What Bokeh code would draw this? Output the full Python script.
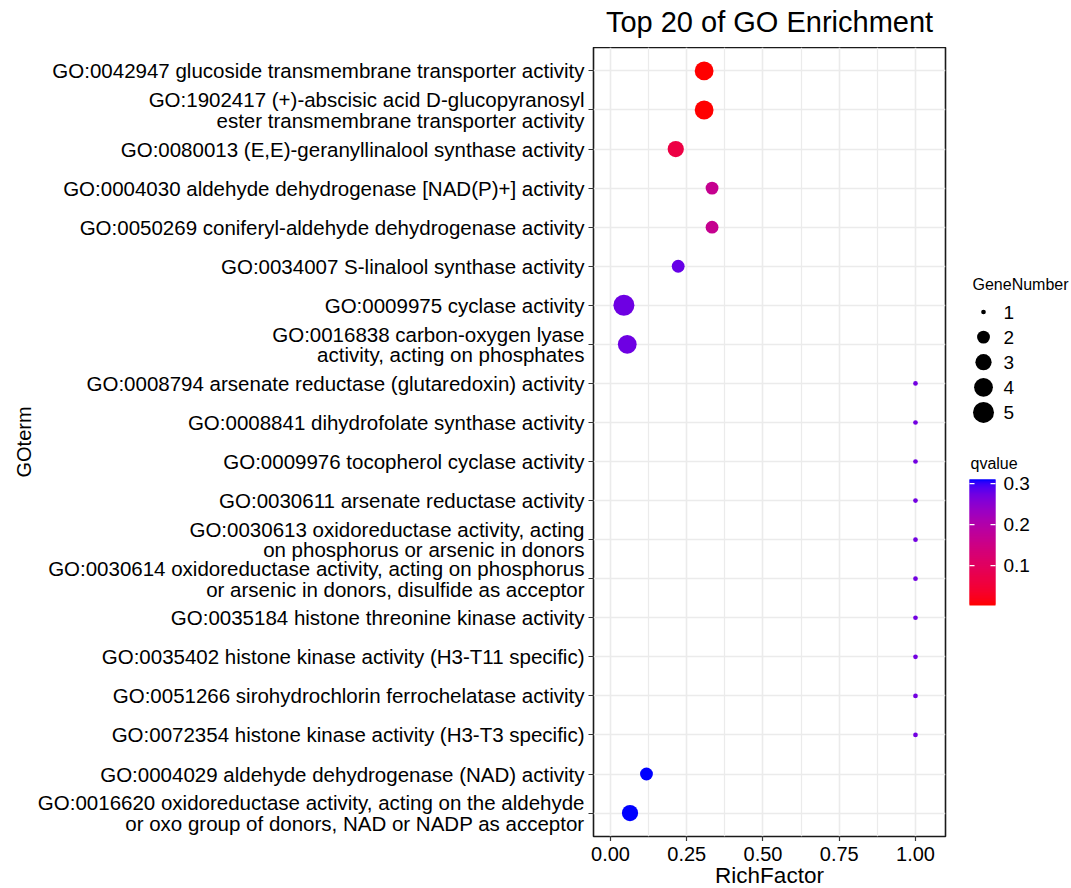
import numpy as np
from bokeh.plotting import figure
from bokeh.models import (Range1d, FixedTicker, ColumnDataSource, LinearColorMapper,
                          CustomJSTickFormatter)
from bokeh.transform import transform
from bokeh.layouts import row, column
from bokeh.embed import file_html
from bokeh.resources import INLINE
from bokeh.core.properties import value

# ---- data (top row first) ----
go_terms = [
    "GO:0042947 glucoside transmembrane transporter activity",
    "GO:1902417 (+)-abscisic acid D-glucopyranosyl\nester transmembrane transporter activity",
    "GO:0080013 (E,E)-geranyllinalool synthase activity",
    "GO:0004030 aldehyde dehydrogenase [NAD(P)+] activity",
    "GO:0050269 coniferyl-aldehyde dehydrogenase activity",
    "GO:0034007 S-linalool synthase activity",
    "GO:0009975 cyclase activity",
    "GO:0016838 carbon-oxygen lyase\nactivity, acting on phosphates",
    "GO:0008794 arsenate reductase (glutaredoxin) activity",
    "GO:0008841 dihydrofolate synthase activity",
    "GO:0009976 tocopherol cyclase activity",
    "GO:0030611 arsenate reductase activity",
    "GO:0030613 oxidoreductase activity, acting\non phosphorus or arsenic in donors",
    "GO:0030614 oxidoreductase activity, acting on phosphorus\nor arsenic in donors, disulfide as acceptor",
    "GO:0035184 histone threonine kinase activity",
    "GO:0035402 histone kinase activity (H3-T11 specific)",
    "GO:0051266 sirohydrochlorin ferrochelatase activity",
    "GO:0072354 histone kinase activity (H3-T3 specific)",
    "GO:0004029 aldehyde dehydrogenase (NAD) activity",
    "GO:0016620 oxidoreductase activity, acting on the aldehyde\nor oxo group of donors, NAD or NADP as acceptor",
]
rich_factor = [0.307, 0.307, 0.214, 0.333, 0.333, 0.222, 0.044, 0.055,
               1.0, 1.0, 1.0, 1.0, 1.0, 1.0, 1.0, 1.0, 1.0, 1.0,
               0.118, 0.064]
gene_number = [4, 4, 3, 2, 2, 2, 5, 4,
               1, 1, 1, 1, 1, 1, 1, 1, 1, 1,
               2, 3]
qvalue = [0.003, 0.003, 0.065, 0.165, 0.165, 0.28, 0.275, 0.275,
          0.272, 0.272, 0.272, 0.272, 0.272, 0.272, 0.272, 0.272, 0.272, 0.272,
          0.31, 0.31]

x_ticks = [0.0, 0.25, 0.5, 0.75, 1.0]
x_minor = [0.125, 0.375, 0.625, 0.875]
size_breaks = [1, 2, 3, 4, 5]
q_breaks = [0.1, 0.2, 0.3]

FONT = "Liberation Sans"

# ---- red -> blue gradient interpolated in CIE Lab ----
WHITE = np.array([0.95047, 1.0, 1.08883])
M = np.array([[0.4124, 0.3576, 0.1805],
              [0.2126, 0.7152, 0.0722],
              [0.0193, 0.1192, 0.9505]])
MINV = np.linalg.inv(M)
D = 6 / 29


def hex_to_lab(h):
    rgb = np.array([int(h[i:i + 2], 16) for i in (1, 3, 5)]) / 255
    lin = np.where(rgb <= 0.04045, rgb / 12.92, ((rgb + 0.055) / 1.055) ** 2.4)
    xyz = M @ lin / WHITE
    f = np.where(xyz > D ** 3, np.cbrt(xyz), xyz / (3 * D ** 2) + 4 / 29)
    return np.array([116 * f[1] - 16, 500 * (f[0] - f[1]), 200 * (f[1] - f[2])])


def lab_to_hex(lab):
    L, a, b = lab
    fy = (L + 16) / 116
    f = np.array([fy + a / 500, fy, fy - b / 200])
    xyz = np.where(f > D, f ** 3, 3 * D ** 2 * (f - 4 / 29)) * WHITE
    lin = np.clip(MINV @ xyz, 0, 1)
    rgb = np.where(lin <= 0.0031308, 12.92 * lin, 1.055 * lin ** (1 / 2.4) - 0.055)
    return "#%02x%02x%02x" % tuple(int(round(c * 255)) for c in np.clip(rgb, 0, 1))


lab_lo, lab_hi = hex_to_lab("#ff0000"), hex_to_lab("#0000ff")
palette = [lab_to_hex(lab_lo + (lab_hi - lab_lo) * t) for t in np.linspace(0, 1, 256)]
q_lo, q_hi = min(qvalue), max(qvalue)
mapper = LinearColorMapper(palette=palette, low=q_lo, high=q_hi)

g_lo, g_hi = min(gene_number), max(gene_number)


def gene_diam(n):
    # area-style size scale (diameter in px)
    return 4.7 + 16.3 * np.sqrt((n - g_lo) / (g_hi - g_lo))


n_terms = len(go_terms)
src = ColumnDataSource(dict(
    term=go_terms,
    rich=rich_factor,
    genes=gene_number,
    q=qvalue,
    ypos=[n_terms - i for i in range(n_terms)],
    diam=[gene_diam(n) for n in gene_number],
))

# ---- page geometry ----
PAGE_W, PAGE_H = 1071, 888
MAIN_W = 955
FRAME_LEFT, FRAME_RIGHT = 593, 945
FRAME_TOP, FRAME_BOTTOM = 47, 836
TICK_LEN = 5
BOTTOM_PAD = TICK_LEN                 # only the x tick marks hang below the frame
MAIN_H = FRAME_BOTTOM - FRAME_TOP + BOTTOM_PAD
X0, X1 = -0.0557, 1.0984
PX_PER_X = (FRAME_RIGHT - FRAME_LEFT) / (X1 - X0)


def blank(width, height, x_range, y_range, **kw):
    f = figure(width=width, height=height, x_range=x_range, y_range=y_range,
               output_backend="svg", toolbar_location=None, min_border=0, **kw)
    f.axis.visible = False
    f.grid.visible = False
    f.outline_line_color = None
    f.background_fill_color = "white"
    f.border_fill_color = "white"
    return f


# ---- title strip ----
title_fig = blank(PAGE_W, FRAME_TOP, Range1d(0, PAGE_W), Range1d(FRAME_TOP, 0))
title_fig.text(x=[(FRAME_LEFT + FRAME_RIGHT) / 2], y=[21], text=["Top 20 of GO Enrichment"],
               text_font=value(FONT), text_font_size="29px", text_color="black",
               text_align="center", text_baseline="middle")

# ---- main dot plot ----
p = figure(width=MAIN_W, height=MAIN_H,
           x_range=Range1d(X0, X1),
           y_range=Range1d(0.4, n_terms + 0.6),
           output_backend="svg", toolbar_location=None,
           min_border_left=FRAME_LEFT, min_border_right=MAIN_W - FRAME_RIGHT,
           min_border_top=0, min_border_bottom=BOTTOM_PAD)
p.background_fill_color = "white"
p.border_fill_color = "white"
p.outline_line_color = "#1a1a1a"
p.outline_line_width = 1.6

p.xaxis.ticker = FixedTicker(ticks=x_ticks, minor_ticks=x_minor)
p.xaxis.formatter = CustomJSTickFormatter(code="return ''")   # labels drawn in the strip below
p.xaxis.major_label_text_font_size = "0px"
p.xaxis.major_label_standoff = 0
p.yaxis.ticker = FixedTicker(ticks=list(range(1, n_terms + 1)))
p.yaxis.major_label_overrides = {n_terms - i: t for i, t in enumerate(go_terms)}

for ax in (p.xaxis[0], p.yaxis[0]):
    ax.axis_line_color = None
    ax.major_tick_line_color = "#333333"
    ax.major_tick_line_width = 1.2
    ax.major_tick_in = 0
    ax.major_tick_out = TICK_LEN
    ax.minor_tick_line_color = None
    ax.major_label_text_font = FONT
    ax.major_label_text_color = "black"
    ax.axis_label_text_font = FONT
    ax.axis_label_text_font_style = "normal"
    ax.axis_label_text_color = "black"

p.yaxis.major_label_text_font_size = "20.5px"
p.yaxis.major_label_text_line_height = 0.9
p.yaxis.major_label_standoff = 4
p.yaxis.axis_label = "GOterm"
p.yaxis.axis_label_text_font_size = "20px"
p.yaxis.axis_label_standoff = 0

p.xgrid.grid_line_color = "#ebebeb"
p.xgrid.grid_line_width = 1.6
p.xgrid.minor_grid_line_color = "#ebebeb"
p.xgrid.minor_grid_line_width = 1.2
p.ygrid.grid_line_color = "#ebebeb"
p.ygrid.grid_line_width = 1.6

p.scatter(x="rich", y="ypos", size="diam", source=src,
          fill_color=transform("q", mapper), line_color=None)

# ---- legend panel (page pixel coordinates, y downwards) ----
leg = blank(PAGE_W - MAIN_W, MAIN_H, Range1d(0, PAGE_W - MAIN_W),
            Range1d(FRAME_BOTTOM, FRAME_TOP))
leg.min_border_bottom = BOTTOM_PAD

# size legend
size_top = 311.5
size_step = 25.1
dot_x = 28
leg.text(x=[17], y=[284], text=["GeneNumber"], text_font=value(FONT),
         text_font_size="16px", text_baseline="middle", text_color="black")
size_src = ColumnDataSource(dict(
    x=[dot_x] * len(size_breaks),
    y=[size_top + i * size_step for i in range(len(size_breaks))],
    d=[gene_diam(n) for n in size_breaks],
    lab=[str(n) for n in size_breaks],
))
leg.scatter(x="x", y="y", size="d", source=size_src, fill_color="black", line_color=None)
leg.text(x=48, y="y", text="lab", source=size_src, text_font=value(FONT),
         text_font_size="19px", text_baseline="middle", text_color="black")

# colour bar (overlapping slices so no seams show)
bar_left, bar_w = 14, 26
bar_bottom, bar_h = 605, 126
n_seg = 126
seg_h = bar_h / n_seg
bar_cols = [palette[int(round(i * (len(palette) - 1) / (n_seg - 1)))] for i in range(n_seg)]
leg.quad(left=bar_left, right=bar_left + bar_w,
         bottom=[bar_bottom - i * seg_h for i in range(n_seg)],
         top=[max(bar_bottom - (i + 1) * seg_h - 1.0, bar_bottom - bar_h) for i in range(n_seg)],
         fill_color=bar_cols, line_color=None)
q_y = [bar_bottom - (q - q_lo) / (q_hi - q_lo) * bar_h for q in q_breaks]
leg.segment(x0=bar_left, x1=bar_left + 5, y0=q_y, y1=q_y, line_color="white", line_width=1.2)
leg.segment(x0=bar_left + bar_w - 5, x1=bar_left + bar_w, y0=q_y, y1=q_y,
            line_color="white", line_width=1.2)
leg.text(x=48, y=q_y, text=[f"{q:.1f}" for q in q_breaks], text_font=value(FONT),
         text_font_size="19px", text_baseline="middle", text_color="black")
leg.text(x=[15], y=[463], text=["qvalue"], text_font=value(FONT),
         text_font_size="16px", text_baseline="middle", text_color="black")

# ---- x tick labels + x-axis title strip (same x scale as the dot plot) ----
strip_top = FRAME_TOP + MAIN_H
strip_x = Range1d(X0 - FRAME_LEFT / PX_PER_X, X1 + (PAGE_W - FRAME_RIGHT) / PX_PER_X)
xlab_fig = blank(PAGE_W, PAGE_H - strip_top, strip_x, Range1d(PAGE_H, strip_top))
xlab_fig.text(x=x_ticks, y=[853.5] * len(x_ticks), text=[f"{t:.2f}" for t in x_ticks],
              text_font=value(FONT), text_font_size="20px", text_color="black",
              text_align="center", text_baseline="middle")
xlab_fig.text(x=[(X0 + X1) / 2], y=[875], text=["RichFactor"],
              text_font=value(FONT), text_font_size="22.5px", text_color="black",
              text_align="center", text_baseline="middle")

layout = column(title_fig, row(p, leg), xlab_fig)
open("out.html", "w").write(file_html(layout, INLINE))
